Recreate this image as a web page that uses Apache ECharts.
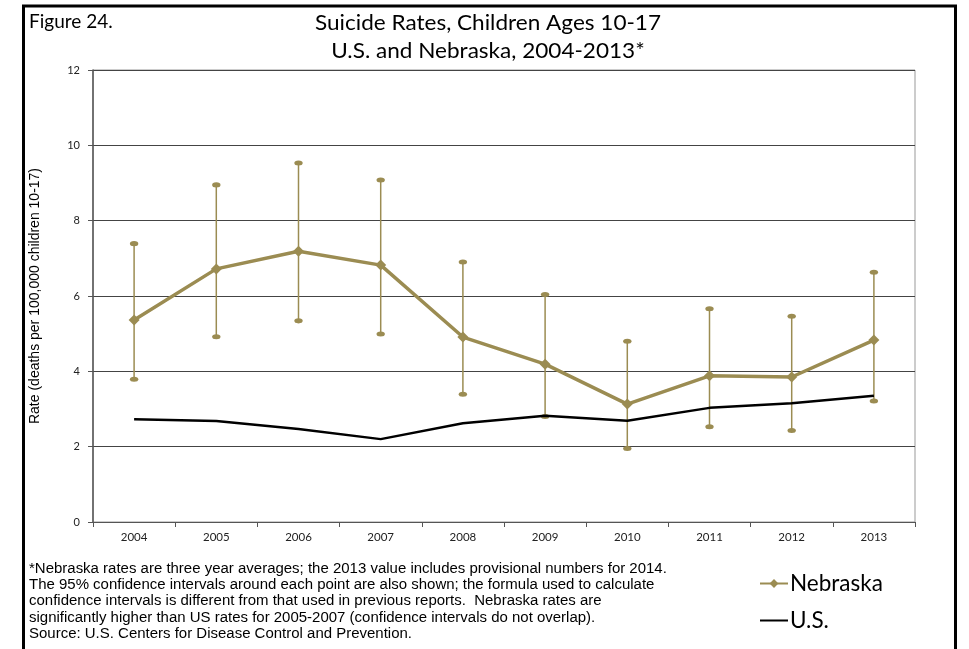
<!DOCTYPE html>
<html>
<head>
<meta charset="utf-8">
<script src="https://cdn.jsdelivr.net/npm/echarts@6/dist/echarts.min.js"></script>
<style>
html,body{margin:0;padding:0;background:#fff;}
#chart{width:969px;height:649px;}
</style>
</head>
<body>
<div id="chart"></div>
<script>
const years = ['2004','2005','2006','2007','2008','2009','2010','2011','2012','2013'];
const nebraska = [5.36, 6.72, 7.19, 6.82, 4.91, 4.19, 3.13, 3.88, 3.85, 4.83];
const nebraskaLow = [3.79, 4.92, 5.34, 4.99, 3.39, 2.80, 1.95, 2.53, 2.43, 3.21];
const nebraskaHigh = [7.39, 8.95, 9.53, 9.08, 6.90, 6.04, 4.80, 5.66, 5.46, 6.63];
const us = [2.73, 2.68, 2.47, 2.20, 2.62, 2.82, 2.69, 3.03, 3.15, 3.35];
const yTicks = [0, 2, 4, 6, 8, 10, 12];

const olive = '#9B8C52';
const errData = years.map((y, i) => [i, nebraskaLow[i], nebraskaHigh[i]]);

const footnote = [
  '*Nebraska rates are three year averages; the 2013 value includes provisional numbers for 2014.',
  'The 95% confidence intervals around each point are also shown; the formula used to calculate',
  'confidence intervals is different from that used in previous reports.  Nebraska rates are',
  'significantly higher than US rates for 2005-2007 (confidence intervals do not overlap).',
  'Source: U.S. Centers for Disease Control and Prevention.'
].join('\n');

const chart = echarts.init(document.getElementById('chart'), null, {renderer: 'canvas'});
chart.setOption({
  animation: false,
  backgroundColor: '#fff',
  textStyle: {fontFamily: 'Lato'},
  grid: {left: 93, right: 54, top: 70, bottom: 127, show: true, borderColor: '#999', borderWidth: 1},
  xAxis: {
    type: 'category',
    data: years,
    boundaryGap: true,
    axisLine: {lineStyle: {color: '#555', width: 1}},
    axisTick: {show: true, length: 5, lineStyle: {color: '#555'}},
    axisLabel: {fontFamily: 'Lato', fontSize: 11.5, color: '#222', margin: 9}
  },
  yAxis: {
    type: 'value',
    min: yTicks[0], max: yTicks[yTicks.length - 1], interval: 2,
    name: 'Rate (deaths per 100,000 children 10-17)',
    nameLocation: 'middle',
    nameGap: 51,
    nameTextStyle: {fontFamily: 'Liberation Sans', fontSize: 14, color: '#000'},
    axisLine: {show: true, lineStyle: {color: '#555', width: 1.5}},
    axisTick: {show: true, length: 5, lineStyle: {color: '#555'}},
    axisLabel: {fontFamily: 'Lato', fontSize: 11, color: '#222', margin: 13},
    splitLine: {show: true, lineStyle: {color: '#444', width: 1}}
  },
  legend: {
    data: [
      {name: 'Nebraska'},
      {name: 'U.S.', itemStyle: {opacity: 0}}
    ],
    orient: 'vertical',
    left: 754,
    top: 567,
    itemWidth: 28,
    itemHeight: 11,
    itemGap: 14,
    textStyle: {fontFamily: 'Lato', fontSize: 22.5, color: '#000', padding: [0, 0, 0, -3]}
  },
  graphic: [
    {type: 'rect', shape: {x: 23.5, y: 6, width: 932, height: 700}, style: {fill: 'none', stroke: '#000', lineWidth: 3}, z: 100},
    {type: 'text', x: 29, y: 12, style: {text: 'Figure 24.', font: '19px Lato', fill: '#000'}},
    {type: 'text', x: 488, y: 9, scaleX: 1.1, originX: 0, style: {text: 'Suicide Rates, Children Ages 10-17\nU.S. and Nebraska, 2004-2013*', font: '20.5px Lato', fill: '#000', textAlign: 'center', lineHeight: 28}},
    {type: 'text', x: 29, y: 561, scaleX: 1.07, style: {text: footnote, font: '14px "Liberation Sans"', fill: '#000', lineHeight: 16.25}}
  ],
  series: [
    {
      type: 'custom',
      name: 'CI',
      data: errData,
      z: 2,
      renderItem: function (params, api) {
        const p0 = api.coord([api.value(0), api.value(1)]);
        const p1 = api.coord([api.value(0), api.value(2)]);
        return {
          type: 'group',
          children: [
            {type: 'line', shape: {x1: p0[0], y1: p0[1], x2: p1[0], y2: p1[1]}, style: {stroke: olive, lineWidth: 1.5}},
            {type: 'circle', x: p0[0], y: p0[1], scaleY: 0.6, shape: {cx: 0, cy: 0, r: 4.2}, style: {fill: olive}},
            {type: 'circle', x: p1[0], y: p1[1], scaleY: 0.6, shape: {cx: 0, cy: 0, r: 4.2}, style: {fill: olive}}
          ]
        };
      }
    },
    {
      type: 'line',
      name: 'U.S.',
      data: us,
      z: 3,
      symbol: 'none',
      lineStyle: {color: '#000', width: 2.5},
      itemStyle: {color: '#000'}
    },
    {
      type: 'line',
      name: 'Nebraska',
      data: nebraska,
      z: 4,
      symbol: 'diamond',
      symbolSize: 11,
      lineStyle: {color: olive, width: 3.5},
      itemStyle: {color: olive}
    }
  ]
});
</script>
</body>
</html>
